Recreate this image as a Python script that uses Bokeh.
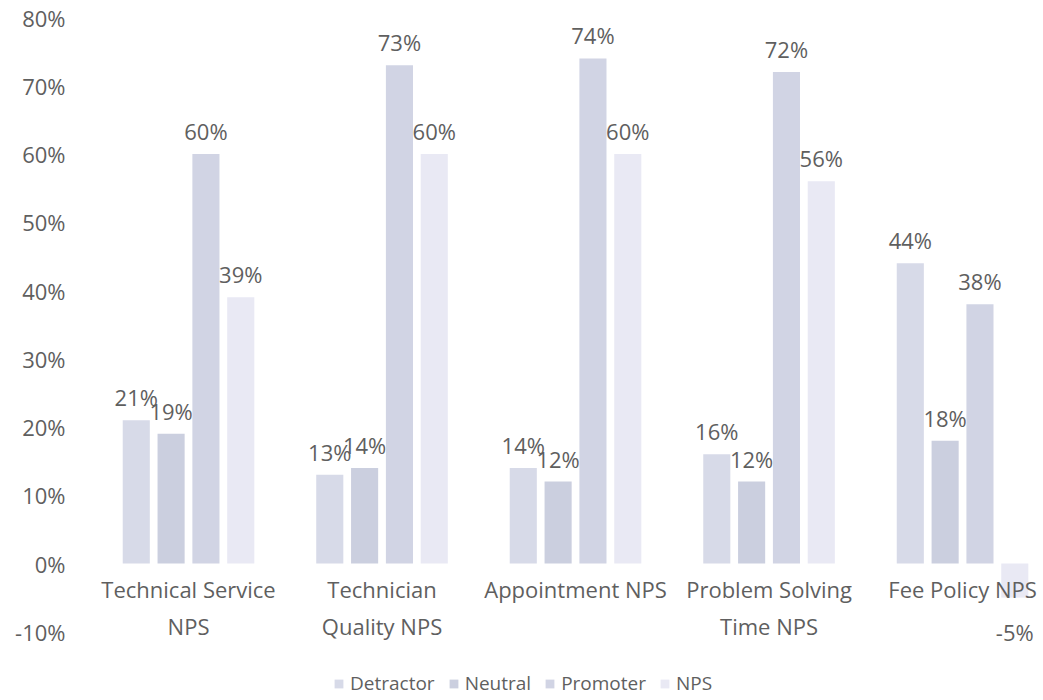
from bokeh.plotting import figure
from bokeh.models import Range1d, NumeralTickFormatter, FixedTicker, Legend, LegendItem, ColumnDataSource
from bokeh.core.properties import value
from bokeh.embed import file_html
from bokeh.resources import INLINE

categories = ["Technical Service\nNPS", "Technician\nQuality NPS", "Appointment NPS",
              "Problem Solving\nTime NPS", "Fee Policy NPS"]
series = ["Detractor", "Neutral", "Promoter", "NPS"]
detractor = [0.21, 0.13, 0.14, 0.16, 0.44]
neutral = [0.19, 0.14, 0.12, 0.12, 0.18]
promoter = [0.60, 0.73, 0.74, 0.72, 0.38]
nps = [0.39, 0.60, 0.60, 0.56, -0.05]
y_ticks = [-0.1, 0.0, 0.1, 0.2, 0.3, 0.4, 0.5, 0.6, 0.7, 0.8]

colors = ["#d7dae8", "#cbcfdf", "#d1d4e4", "#e9e9f4"]
FONT = "Open Sans"
TXT = "#5f5f5f"
FS = "22px"

p = figure(frame_width=951, frame_height=681, output_backend="svg", toolbar_location=None,
           x_range=Range1d(-0.5065, 4.408), y_range=Range1d(-0.1978, 0.8),
           min_border_left=90, min_border_right=0, min_border_top=17, min_border_bottom=0)
p.outline_line_color = None
p.grid.visible = False
p.xaxis.visible = False

ya = p.yaxis[0]
ya.ticker = FixedTicker(ticks=y_ticks)
ya.formatter = NumeralTickFormatter(format="0%")
ya.axis_line_color = None
ya.major_tick_line_color = None
ya.minor_tick_line_color = None
ya.major_tick_out = 0
ya.major_tick_in = 0
ya.major_label_text_font = FONT
ya.major_label_text_font_size = FS
ya.major_label_text_color = TXT
ya.major_label_standoff = 25

xs = list(range(len(categories)))
offsets = [-0.27, -0.09, 0.09, 0.27]
width = 0.14
items = []
for name, vals, col, off in zip(series, [detractor, neutral, promoter, nps], colors, offsets):
    xpos = [x + off for x in xs]
    src = ColumnDataSource(dict(x=xpos, top=vals,
                                lab=[f"{round(v*100):d}%" for v in vals],
                                yo=[-23 if v >= 0 else 34 for v in vals]))
    r = p.vbar(x="x", top="top", bottom=0, width=width, source=src,
               fill_color=col, line_color=None)
    p.text(x="x", y="top", text="lab", y_offset="yo", source=src,
           text_align="center", text_baseline="middle",
           text_font=value(FONT), text_font_size=FS, text_color=TXT)
    items.append(LegendItem(label=name, renderers=[r]))

line1 = [c.split("\n")[0] for c in categories]
line2 = [c.split("\n")[1] if "\n" in c else "" for c in categories]
csrc = ColumnDataSource(dict(x=xs, y=[0]*len(xs), l1=line1, l2=line2))
p.text(x="x", y="y", text="l1", y_offset=25, source=csrc, text_align="center",
       text_baseline="middle", text_font=value(FONT), text_font_size=FS, text_color=TXT)
p.text(x="x", y="y", text="l2", y_offset=62, source=csrc, text_align="center",
       text_baseline="middle", text_font=value(FONT), text_font_size=FS, text_color=TXT)

legend = Legend(items=items, orientation="horizontal", location=(243, 2),
                label_text_font=FONT, label_text_font_size="19px", label_text_color=TXT,
                glyph_width=11, glyph_height=11, label_standoff=6, spacing=13,
                border_line_color=None, background_fill_alpha=0, padding=0, margin=0)
p.add_layout(legend, "center")

open("out.html", "w").write(file_html(p, INLINE))
